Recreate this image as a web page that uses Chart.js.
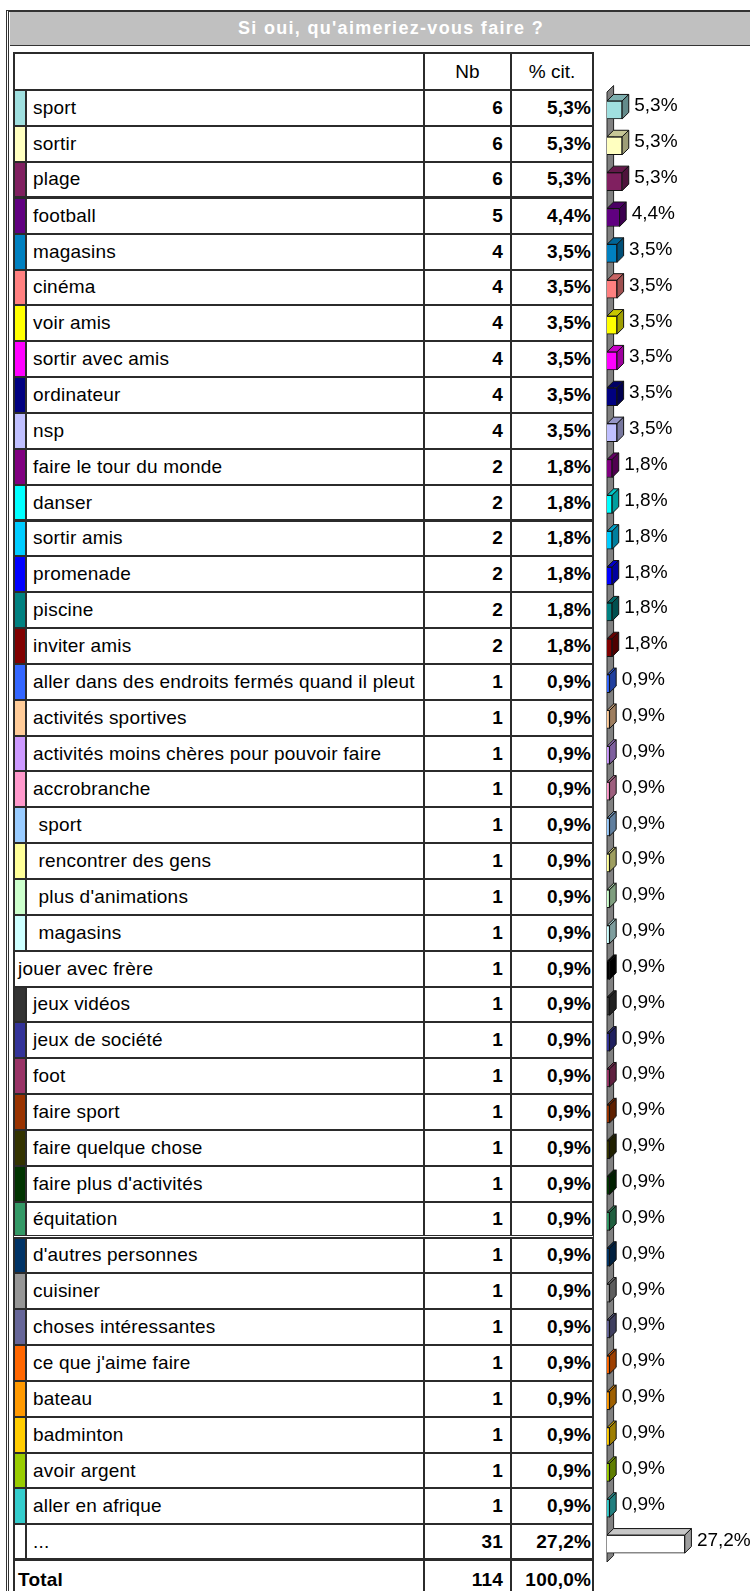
<!DOCTYPE html>
<html>
<head>
<meta charset="utf-8">
<script src="https://cdn.jsdelivr.net/npm/chart.js@4.4.0/dist/chart.umd.min.js"></script>
<style>
    body { margin: 0; width: 750px; height: 1591px; overflow: hidden; background: #fff; position: relative;
           font-family: "Liberation Sans", Arial, sans-serif; color: #000; }
    #frame { position: absolute; left: 6px; top: 10px; width: 800px; height: 1700px;
             border-left: 3px double #333; border-top: 2px solid #333; }
    #title { position: absolute; left: 10px; top: 12px; width: 762px; height: 33px; line-height: 33px;
             background: #c0c0c0; border-bottom: 1px solid #333; color: #fff; font-weight: bold;
             font-size: 18px; text-align: center; letter-spacing: 1.3px; }
    .row { position: absolute; left: 13px; width: 581px; box-sizing: border-box; border: 2px solid #2b2b2b; }
    .row.dbl { border-bottom: 3px double #2b2b2b; }
    .cell { position: absolute; top: 0; bottom: 0; box-sizing: border-box; white-space: pre;
            font-size: 19px; letter-spacing: 0.2px; display: flex; align-items: center; }
    .sw { left: 0; width: 12px; border-right: 2px solid #2b2b2b; }
    .lab { left: 12px; width: 396px; padding-left: 6px; }
    .nb { left: 408px; width: 87px; border-left: 2px solid #2b2b2b; justify-content: flex-end; padding-right: 7px; font-weight: bold; }
    .pc { left: 495px; width: 82px; border-left: 2px solid #2b2b2b; justify-content: flex-end; padding-right: 1px; font-weight: bold; }
    .head .nb, .head .pc { justify-content: center; padding-right: 0; font-weight: normal; font-size: 19px; letter-spacing: 0; }
    #bars { position: absolute; left: 596px; top: 80px; }
</style>
</head>
<body>
<div id="frame"></div>
<div id="title">Si oui, qu'aimeriez-vous faire ?</div>
<div id="table"></div>
<canvas id="bars" width="154" height="1500"></canvas>

<script>
// Data
const labels = ['sport', 'sortir', 'plage', 'football', 'magasins', 'cinéma', 'voir amis', 'sortir avec amis',
    'ordinateur', 'nsp', 'faire le tour du monde', 'danser', 'sortir amis', 'promenade', 'piscine', 'inviter amis',
    'aller dans des endroits fermés quand il pleut', 'activités sportives', 'activités moins chères pour pouvoir faire',
    'accrobranche', ' sport', ' rencontrer des gens', ' plus d\'animations', ' magasins', 'jouer avec frère',
    'jeux vidéos', 'jeux de société', 'foot', 'faire sport', 'faire quelque chose', 'faire plus d\'activités',
    'équitation', 'd\'autres personnes', 'cuisiner', 'choses intéressantes', 'ce que j\'aime faire', 'bateau',
    'badminton', 'avoir argent', 'aller en afrique', '...'];
const counts = [6, 6, 6, 5, 4, 4, 4, 4, 4, 4, 2, 2, 2, 2, 2, 2,
    1, 1, 1, 1, 1, 1, 1, 1, 1, 1, 1, 1, 1, 1, 1, 1, 1, 1, 1, 1, 1, 1, 1, 1, 31];
const pcts = [5.3, 5.3, 5.3, 4.4, 3.5, 3.5, 3.5, 3.5, 3.5, 3.5, 1.8, 1.8, 1.8, 1.8, 1.8, 1.8,
    0.9, 0.9, 0.9, 0.9, 0.9, 0.9, 0.9, 0.9, 0.9, 0.9, 0.9, 0.9, 0.9, 0.9, 0.9, 0.9,
    0.9, 0.9, 0.9, 0.9, 0.9, 0.9, 0.9, 0.9, 27.2];
const colors = ['#a0e0e0', '#ffffc0', '#802060', '#600080', '#0080c0', '#ff8080', '#ffff00', '#ff00ff',
    '#000080', '#c0c0ff', '#800080', '#00ffff', '#00ccff', '#0000ff', '#008080', '#800000',
    '#3366ff', '#ffcc99', '#cc99ff', '#ff99cc', '#99ccff', '#ffff99', '#ccffcc', '#ccffff',
    '#000000', '#333333', '#333399', '#993366', '#993300', '#333300', '#003300', '#339966',
    '#003366', '#969696', '#666699', '#ff6600', '#ff9900', '#ffcc00', '#99cc00', '#33cccc', '#ffffff'];
const noSwatch = ['jouer avec frère'];
const totalCount = 114;
const totalPct = '100,0%';

const fmt = v => v.toFixed(1).replace('.', ',') + '%';

// Table
const ROW_TOP = 89.3, ROW_H = 35.85;
const doubleAfter = [2, 31, 40];

function addRow(top, height, cls, parts) {
    const row = document.createElement('div');
    row.className = 'row ' + cls;
    row.style.top = top + 'px';
    row.style.height = (height + 2) + 'px';
    row.innerHTML = parts;
    document.getElementById('table').appendChild(row);
}

addRow(52, ROW_TOP - 52, 'head',
    '<div class="cell nb">Nb</div><div class="cell pc">% cit.</div>');

labels.forEach((lab, i) => {
    const sw = !noSwatch.includes(lab);
    const parts = (sw ? `<div class="cell sw" style="background:${colors[i]}"></div>` : '') +
        `<div class="cell lab" style="${sw ? '' : 'left:0;width:408px;padding-left:3px'}">${lab}</div>` +
        `<div class="cell nb">${counts[i]}</div><div class="cell pc">${fmt(pcts[i])}</div>`;
    addRow(ROW_TOP + i * ROW_H, ROW_H, doubleAfter.includes(i) ? 'dbl' : '', parts);
});

addRow(ROW_TOP + labels.length * ROW_H, 40, '',
    '<div class="cell lab" style="left:0;width:408px;padding-left:3px;font-weight:bold">Total</div>' +
    `<div class="cell nb">${totalCount}</div><div class="cell pc">${totalPct}</div>`);

// 3D look for the bars: back wall, top and side faces, value labels
const DX = 6.6, DY = 6.5;

function shade(hex, f) {
    const n = parseInt(hex.slice(1), 16);
    const r = Math.round(((n >> 16) & 255) * f), g = Math.round(((n >> 8) & 255) * f), b = Math.round((n & 255) * f);
    return `rgb(${r},${g},${b})`;
}

function poly(ctx, pts, fill) {
    ctx.beginPath();
    ctx.moveTo(pts[0][0], pts[0][1]);
    pts.slice(1).forEach(p => ctx.lineTo(p[0], p[1]));
    ctx.closePath();
    ctx.fillStyle = fill;
    ctx.fill();
    ctx.stroke();
}

const bars3d = {
    id: 'bars3d',
    beforeDatasetsDraw(chart) {
        const { ctx, chartArea: a } = chart;
        ctx.save();
        ctx.strokeStyle = '#222';
        ctx.lineWidth = 1;
        poly(ctx, [[a.left, a.top], [a.left + DX, a.top - DY], [a.left + DX, a.bottom - DY], [a.left, a.bottom]], '#808080');
        ctx.restore();
    },
    afterDatasetsDraw(chart) {
        const { ctx } = chart;
        const meta = chart.getDatasetMeta(0);
        ctx.save();
        ctx.strokeStyle = '#111';
        ctx.lineWidth = 1;
        meta.data.forEach((bar, i) => {
            const { x, y, base, height } = bar.getProps(['x', 'y', 'base', 'height'], true);
            const yt = y - height / 2, yb = y + height / 2;
            poly(ctx, [[base, yt], [base + DX, yt - DY], [x + DX, yt - DY], [x, yt]], shade(colors[i], 0.78));
            poly(ctx, [[x, yt], [x + DX, yt - DY], [x + DX, yb - DY], [x, yb]], shade(colors[i], 0.62));
            ctx.fillStyle = '#000';
            ctx.font = '19px "Liberation Sans", Arial, sans-serif';
            ctx.textBaseline = 'alphabetic';
            ctx.fillText(fmt(pcts[i]), x + DX + 5.5, y + 1.5);
        });
        ctx.restore();
    }
};

new Chart(document.getElementById('bars').getContext('2d'), {
    type: 'bar',
    data: {
        labels: labels,
        datasets: [{
            data: pcts,
            backgroundColor: colors,
            borderColor: '#111',
            borderWidth: 1,
            barThickness: 18
        }]
    },
    options: {
        indexAxis: 'y',
        responsive: false,
        animation: false,
        layout: { padding: { left: 11, right: 0, top: 12, bottom: 18 } },
        scales: {
            x: { display: false, min: 0, max: 50 },
            y: { display: false }
        },
        plugins: { legend: { display: false }, tooltip: { enabled: false } }
    },
    plugins: [bars3d]
});
</script>
</body>
</html>
